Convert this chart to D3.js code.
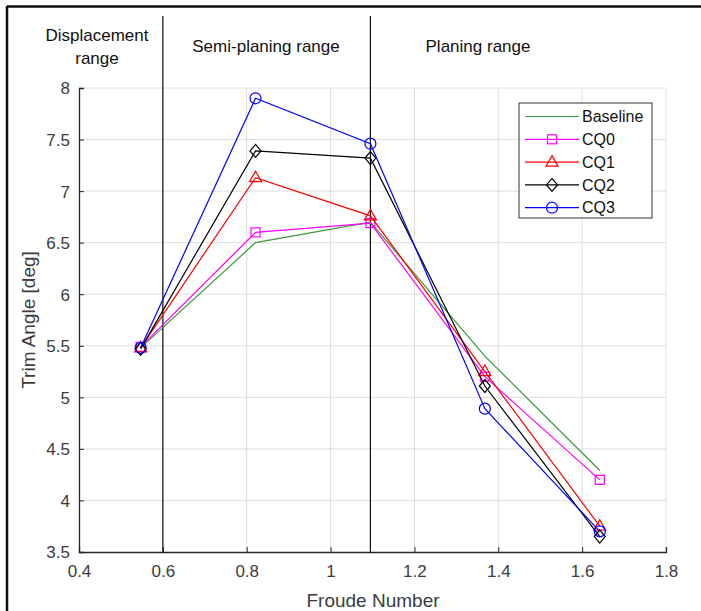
<html>
<head>
<meta charset="utf-8">
<title>Trim Angle</title>
<script src="https://cdn.jsdelivr.net/npm/d3@7"></script>
<style>
  body { margin: 0; background: #fff; }
  text { font-family: "Liberation Sans", Arial, sans-serif; }
</style>
</head>
<body>
<svg id="svg" width="701" height="611"></svg>
<script>
// data
var froude = [0.547, 0.821, 1.095, 1.368, 1.642];
var baseline = [5.48, 6.50, 6.70, 5.40, 4.29];
var cq0 = [5.49, 6.60, 6.69, 5.20, 4.20];
var cq1 = [5.48, 7.13, 6.76, 5.25, 3.75];
var cq2 = [5.47, 7.39, 7.32, 5.11, 3.65];
var cq3 = [5.48, 7.90, 7.46, 4.89, 3.70];
var seriesNames = ["Baseline", "CQ0", "CQ1", "CQ2", "CQ3"];
var seriesColors = ["#3a9a3a", "#ff00ff", "#ff0000", "#000000", "#0000ff"];
var seriesMarkers = ["none", "square", "triangle", "diamond", "circle"];
var xTicks = [0.4, 0.6, 0.8, 1, 1.2, 1.4, 1.6, 1.8];
var yTicks = [3.5, 4, 4.5, 5, 5.5, 6, 6.5, 7, 7.5, 8];
var rangeBounds = [0.6, 1.095];

var allSeries = [baseline, cq0, cq1, cq2, cq3];

var svg = d3.select("#svg");
var pLeft = 79, pRight = 666, pTop = 88, pBottom = 552;

var x = d3.scaleLinear().domain([0.4, 1.8]).range([pLeft, pRight]);
var y = d3.scaleLinear().domain([3.5, 8]).range([pBottom, pTop]);

// outer frame (top and left only)
svg.append("line").attr("x1", 7).attr("x2", 701).attr("y1", 6.5).attr("y2", 6.5)
  .style("stroke", "#111").style("stroke-width", 2.5);
svg.append("line").attr("x1", 7).attr("x2", 7).attr("y1", 6).attr("y2", 611)
  .style("stroke", "#111").style("stroke-width", 2.5);

// grid
var grid = svg.append("g");
grid.selectAll(".vg").data(xTicks.slice(1)).enter().append("line")
  .attr("x1", function(d){ return x(d); }).attr("x2", function(d){ return x(d); })
  .attr("y1", pTop).attr("y2", pBottom)
  .style("stroke", "#dedede").style("stroke-width", 1);
grid.selectAll(".hg").data(yTicks.slice(1)).enter().append("line")
  .attr("x1", pLeft).attr("x2", pRight)
  .attr("y1", function(d){ return y(d); }).attr("y2", function(d){ return y(d); })
  .style("stroke", "#dedede").style("stroke-width", 1);

// axes
var xAxis = d3.axisBottom(x).tickValues(xTicks).tickSize(-5).tickPadding(13)
  .tickFormat(function(d){ return d3.format("")(d); });
var yAxis = d3.axisLeft(y).tickValues(yTicks).tickSize(-5).tickPadding(9)
  .tickFormat(function(d){ return d3.format("")(d); });

var gx = svg.append("g").attr("transform", "translate(0," + pBottom + ")").call(xAxis);
var gy = svg.append("g").attr("transform", "translate(" + pLeft + ",0)").call(yAxis);
[gx, gy].forEach(function(g){
  g.select(".domain").style("stroke", "#262626").style("stroke-width", 1.3);
  g.selectAll(".tick line").style("stroke", "#262626");
  g.selectAll(".tick text").style("font-size", "17px").style("fill", "#3c3c3c")
    .style("font-family", "'Liberation Sans', Arial, sans-serif");
});
gy.selectAll(".tick text").attr("dy", "0.35em");

svg.append("text").text("Froude Number")
  .attr("x", 373).attr("y", 607)
  .attr("text-anchor", "middle").style("font-size", "19px").style("fill", "#3c3c3c");
svg.append("text").text("Trim Angle [deg]")
  .attr("transform", "translate(35," + (pTop + pBottom) / 2 + ") rotate(-90)")
  .attr("text-anchor", "middle").style("font-size", "19px").style("fill", "#3c3c3c");

// regime boundaries
svg.selectAll(".bound").data(rangeBounds).enter().append("line")
  .attr("x1", function(d){ return x(d); }).attr("x2", function(d){ return x(d); })
  .attr("y1", 16).attr("y2", pBottom + 1)
  .style("stroke", "#111").style("stroke-width", 1.2);

var labels = [
  {t: ["Displacement", "range"], cx: 97, y: 41},
  {t: ["Semi-planing range"], cx: 266, y: 52},
  {t: ["Planing range"], cx: 478, y: 52}
];
labels.forEach(function(l){
  var tx = svg.append("text").attr("text-anchor", "middle").style("font-size", "17px").style("fill", "#111");
  l.t.forEach(function(s, i){
    tx.append("tspan").attr("x", l.cx).attr("y", l.y + i * 23).text(s);
  });
});

// markers
function drawMarker(g, type, color, cx, cy) {
  var m;
  if (type === "square") {
    m = g.append("rect").attr("x", cx - 4.5).attr("y", cy - 4.5).attr("width", 9).attr("height", 9);
  } else if (type === "triangle") {
    m = g.append("path").attr("d", "M" + cx + "," + (cy - 6.5) + "L" + (cx + 6) + "," + (cy + 4) + "L" + (cx - 6) + "," + (cy + 4) + "Z");
  } else if (type === "diamond") {
    m = g.append("path").attr("d", "M" + cx + "," + (cy - 6.5) + "L" + (cx + 5.5) + "," + cy + "L" + cx + "," + (cy + 6.5) + "L" + (cx - 5.5) + "," + cy + "Z");
  } else if (type === "circle") {
    m = g.append("circle").attr("cx", cx).attr("cy", cy).attr("r", 5.5);
  } else {
    return;
  }
  m.style("fill", "none").style("stroke", color).style("stroke-width", 1.2);
}

var line = d3.line()
  .x(function(d, i){ return x(froude[i]); })
  .y(function(d){ return y(d); });

var plot = svg.append("g");
allSeries.forEach(function(s, k){
  var g = plot.append("g");
  g.append("path").attr("d", line(s))
    .style("fill", "none").style("stroke", seriesColors[k]).style("stroke-width", 1.2);
  s.forEach(function(v, i){
    drawMarker(g, seriesMarkers[k], seriesColors[k], x(froude[i]), y(v));
  });
});

// legend
var lg = svg.append("g").attr("transform", "translate(519,103)");
lg.append("rect").attr("width", 133).attr("height", 115)
  .style("fill", "#fff").style("stroke", "#333").style("stroke-width", 1);
seriesNames.forEach(function(n, k){
  var yy = 13.5 + k * 22.8;
  lg.append("line").attr("x1", 6).attr("x2", 60).attr("y1", yy).attr("y2", yy)
    .style("stroke", seriesColors[k]).style("stroke-width", 1.2);
  drawMarker(lg, seriesMarkers[k], seriesColors[k], 33, yy);
  lg.append("text").text(n).attr("x", 63).attr("y", yy).attr("dy", "0.36em")
    .style("font-size", "16px").style("fill", "#111");
});
</script>
</body>
</html>
